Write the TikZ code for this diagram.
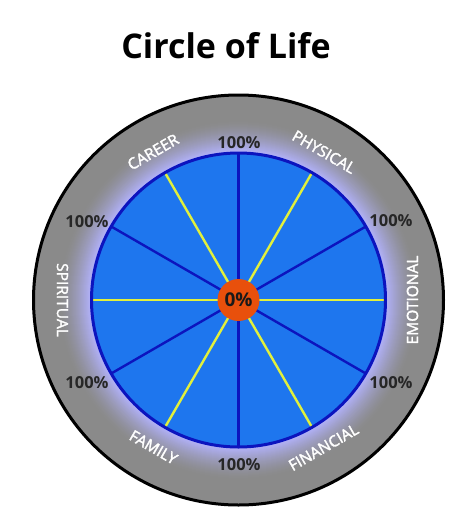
\documentclass[tikz,border=0pt]{standalone}
\usepackage{fontspec}
\setmainfont{Open Sans}
\newfontfamily\catfont[FakeBold=2]{Open Sans}
\usetikzlibrary{calc}
\definecolor{ringgray}{RGB}{138,138,138}
\definecolor{glow}{RGB}{178,178,252}
\definecolor{faceblue}{RGB}{30,118,238}
\definecolor{darkspoke}{RGB}{12,20,190}
\definecolor{yellowspoke}{RGB}{225,240,60}
\definecolor{hubred}{RGB}{232,80,12}
\tikzset{
  darkline/.style={draw=darkspoke, line width=2.4pt},
  yellowline/.style={draw=yellowspoke, line width=2.4pt},
  cat/.style={text=white, font=\catfont\fontsize{15.5}{15.5}\selectfont, inner sep=0pt},
  pct/.style={text=black!85, font=\bfseries\fontsize{16.5}{16.5}\selectfont, inner sep=0pt},
}
\begin{document}
\begin{tikzpicture}[x=1pt,y=-1pt]
\useasboundingbox (0,0) rectangle (474,520);
\coordinate (c) at (238.5,300);
% title
\node[font=\bfseries\fontsize{34}{34}\selectfont, anchor=base, inner sep=0pt] (title) at (226,58) {Circle of Life};
% outer ring
\fill[ringgray] (c) circle (205);
\draw[black, line width=3pt] (c) circle (205);
% glow
\foreach \i in {0,...,32}{
  \pgfmathsetmacro{\mix}{(\i/32)^1.5*100}
  \fill[glow!\mix!ringgray] (c) circle ({180-\i});
}
% face
\fill[faceblue] (c) circle (147);
% rim coordinates and spokes
\foreach \a in {0,30,...,330}{
  \coordinate (r\a) at ($(c)+({-\a}:147)$);
}
\foreach \a in {30,90,150,210,270,330}{
  \draw[darkline] (c) -- (r\a);
}
\foreach \a in {0,60,120,180,240,300}{
  \draw[yellowline] (c) -- (r\a);
}
\draw[darkspoke, line width=3pt] (c) circle (147);
% hub
\node[circle, fill=hubred, minimum size=42pt, inner sep=0pt, font=\bfseries\fontsize{19}{19}\selectfont, text=black!90] (hub) at (c) {0\%};
% category labels
\node[cat, rotate=-30] (physical) at ($(c)+(-60:171)$) {PHYSICAL};
\node[cat, rotate=30] (career) at ($(c)+(-120:171)$) {CAREER};
\node[cat, rotate=90] (emotional) at ($(c)+(0:174)$) {EMOTIONAL};
\node[cat, rotate=-90] (spiritual) at ($(c)+(180:176)$) {SPIRITUAL};
\node[cat, rotate=30] (financial) at ($(c)+(60:170)$) {FINANCIAL};
\node[cat, rotate=-30] (family) at ($(c)+(120:170)$) {FAMILY};
% percent labels
\node[pct] (p90) at (239,143) {100\%};
\node[pct] (p270) at (239,465) {100\%};
\node[pct] (p150) at (87,222) {100\%};
\node[pct] (p30) at (391,221) {100\%};
\node[pct] (p210) at (87,383) {100\%};
\node[pct] (p330) at (391,383) {100\%};
\end{tikzpicture}
\end{document}
